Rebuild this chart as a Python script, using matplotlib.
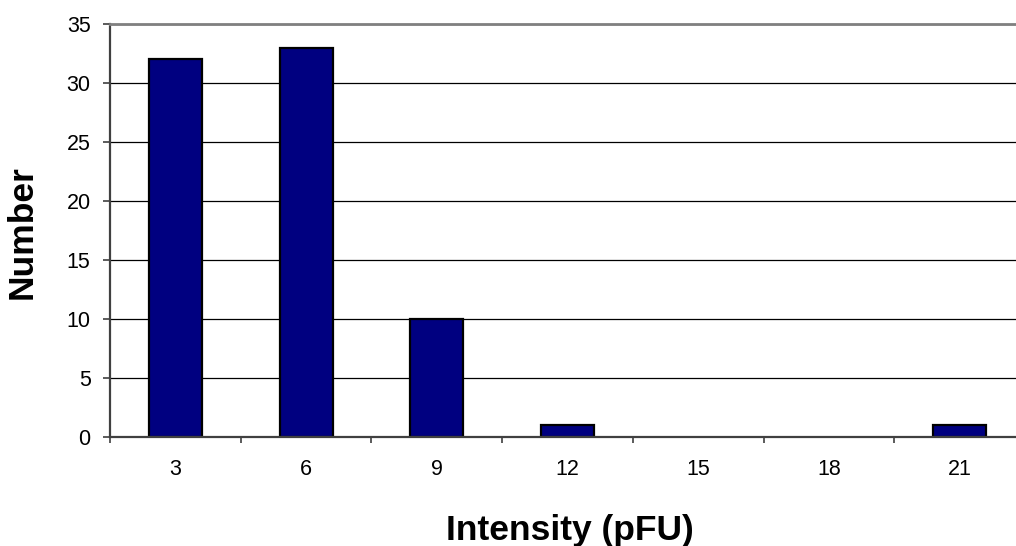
import matplotlib
matplotlib.use("Agg")
import matplotlib.pyplot as plt
import numpy as np

categories = ["3", "6", "9", "12", "15", "18", "21"]
values = [32, 33, 10, 1, 0, 0, 1]
y_ticks = [0, 5, 10, 15, 20, 25, 30, 35]

plt.rcParams['font.family'] = ['Liberation Sans', 'DejaVu Sans']

W, H = 1016, 546
fig = plt.figure(figsize=(W / 100, H / 100), dpi=100)
left, right, top, bottom = 110, 1025, 24, 437
ax = fig.add_axes([left / W, 1 - bottom / H, (right - left) / W, (bottom - top) / H])

x = np.arange(len(categories))
edge_widths = [1.6 if v > 0 else 0 for v in values]
ax.bar(x, values, width=0.405, color="#000080", edgecolor="black",
       linewidth=edge_widths, zorder=3)

ax.set_xlim(-0.5, len(categories) - 0.5)
ax.set_ylim(0, 35)
ax.set_yticks(y_ticks)
ax.set_yticklabels([str(v) for v in y_ticks], fontsize=15.5)
ax.yaxis.grid(True, color="black", linewidth=0.9, zorder=0)

# category labels centred, ticks at boundaries
ax.set_xticks(x)
ax.set_xticklabels(categories, fontsize=15.5)
ax.tick_params(axis="x", which="major", length=0, pad=16)
ax.set_xticks(np.arange(len(categories) + 1) - 0.5, minor=True)
ax.tick_params(axis="x", which="minor", length=4.5, width=1.2, color="#404040")
ax.tick_params(axis="y", length=5, width=1.2, color="#404040", pad=9)

ax.spines["right"].set_visible(False)
ax.spines["top"].set_color("#808080")
ax.spines["top"].set_linewidth(2)
ax.spines["top"].set_zorder(5)
ax.spines["left"].set_color("#404040")
ax.spines["left"].set_linewidth(1.6)
ax.spines["bottom"].set_color("#404040")
ax.spines["bottom"].set_linewidth(1.6)
ax.spines["bottom"].set_zorder(4)

fig.text(570 / W, 1 - 540 / H, "Intensity (pFU)", fontsize=25.5, fontweight="bold",
         ha="center", va="baseline")
fig.text(22 / W, 1 - 232 / H, "Number", fontsize=25.5, fontweight="bold",
         ha="center", va="center", rotation=90)

fig.savefig("out.png", dpi=100)
